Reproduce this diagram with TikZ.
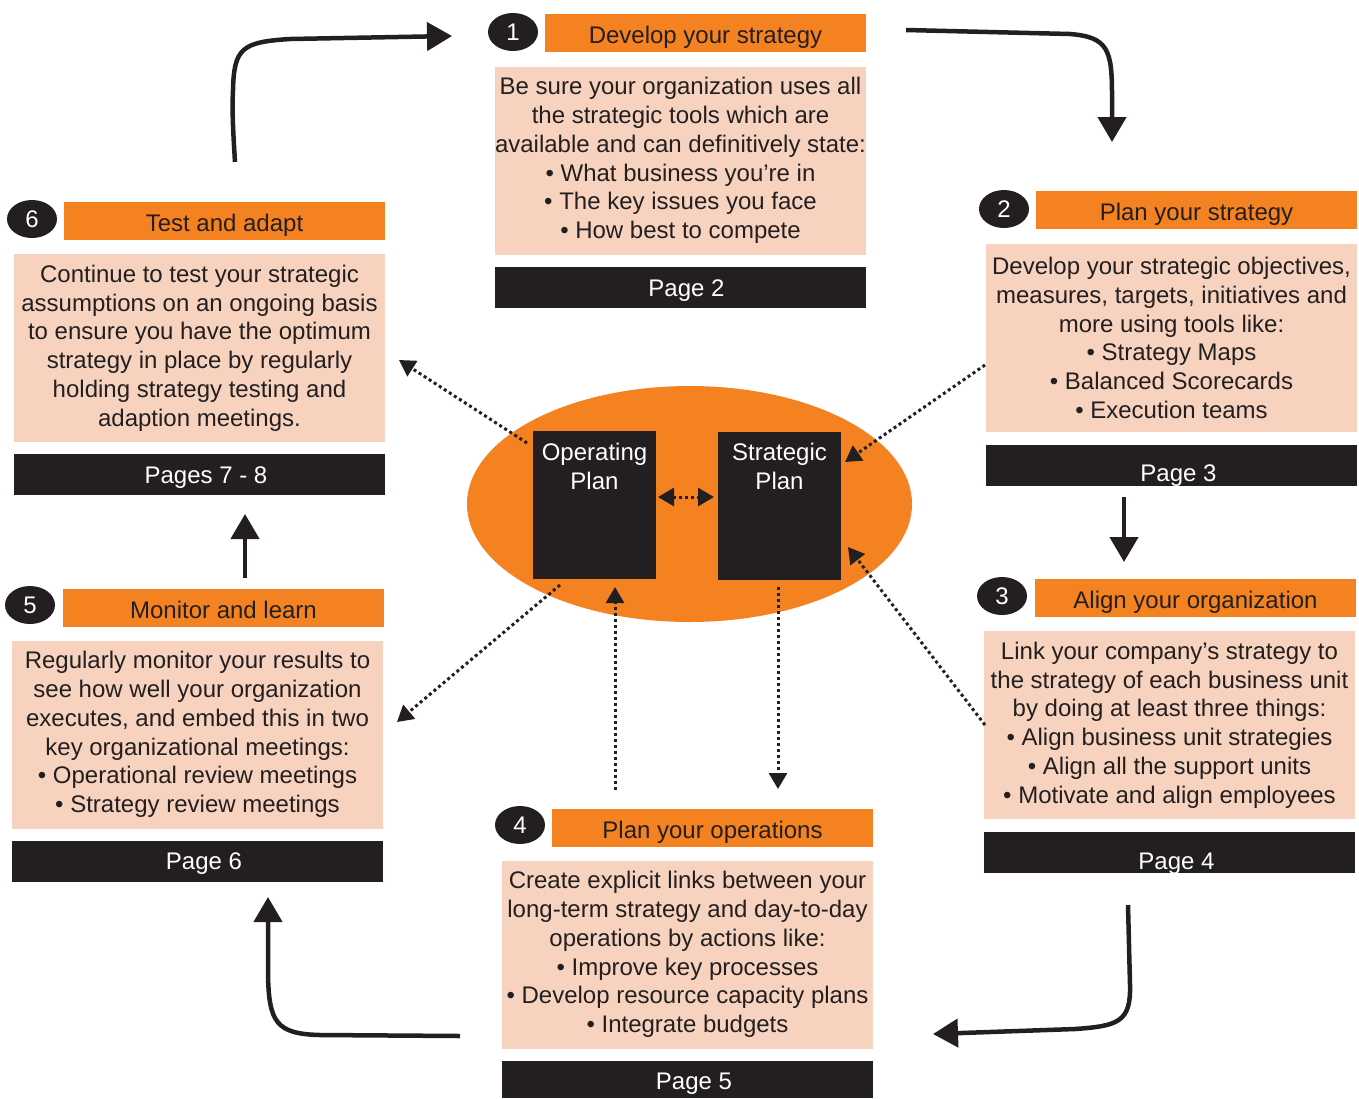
\documentclass[tikz,border=0pt]{standalone}
\usepackage{fontspec}
\setmainfont{Liberation Sans}
\usetikzlibrary{arrows.meta,shapes.geometric}
\definecolor{orng}{HTML}{F58220}
\definecolor{peach}{HTML}{F7D3BF}
\definecolor{dark}{HTML}{231F20}
\begin{document}
\begin{tikzpicture}[x=1pt,y=-1pt,
  txt/.style={font=\fontsize{24}{28.8}\selectfont},
  hdr/.style={txt,fill=orng,text=dark,minimum width=321pt,minimum height=38pt,inner sep=0pt,text height=21pt,text depth=0pt},
  bodybox/.style={txt,fill=peach,text=dark,minimum width=371pt,minimum height=188pt,inner sep=0pt,align=center},
  pgbar/.style={fill=dark,minimum width=371pt,minimum height=41pt,inner sep=0pt},
  pgtxt/.style={txt,text=white,inner sep=0pt,text height=17.2pt,text depth=0pt},
  num/.style={txt,ellipse,fill=dark,text=white,minimum width=50pt,minimum height=38pt,inner sep=0pt},
  plan/.style={fill=dark,minimum width=123pt,minimum height=148pt,inner sep=0pt},
  plantxt/.style={txt,text=white,align=center,inner sep=0pt},
  thick arrow/.style={draw=dark,line width=4.5pt,-{Triangle[length=25pt,width=28pt]}},
  dot arrow/.style={draw=dark,line width=3pt,dash pattern=on 3pt off 3pt,-{Triangle[length=16pt,width=18pt]}},
]
\useasboundingbox (0,0) rectangle (1359,1098);

% centre
\node[ellipse,fill=orng,minimum width=445pt,minimum height=236pt,inner sep=0pt] (core) at (689.5,504) {};
\node[plan] (op) at (594.5,505) {};
\node[plantxt] (optxt) at (594.5,466.5) {Operating\\Plan};
\node[plan] (sp) at (779.5,506) {};
\node[plantxt] (sptxt) at (779.5,466.5) {Strategic\\Plan};

% box 1
\node[num] (n1) at (513,32) {1};
\node[hdr] (h1) at (705.5,33) {Develop your strategy};
\node[bodybox] (b1) at (680.5,160.5) {Be sure your organization uses all\\the strategic tools which are\\available and can definitively state:\\• What business you’re in\\• The key issues you face\\• How best to compete};
\node[pgbar] (p1) at (680.5,287.5) {};
\node[pgtxt] (t1) at (686.5,288) {Page 2};

% box 2
\node[num] (n2) at (1004,209) {2};
\node[hdr] (h2) at (1196.5,210) {Plan your strategy};
\node[bodybox] (b2) at (1171.5,338) {Develop your strategic objectives,\\measures, targets, initiatives and\\more using tools like:\\• Strategy Maps\\• Balanced Scorecards\\• Execution teams};
\node[pgbar] (p2) at (1171.5,465.5) {};
\node[pgtxt] (t2) at (1178.5,473) {Page 3};

% box 3
\node[num] (n3) at (1002,596) {3};
\node[hdr] (h3) at (1195.5,597.5) {Align your organization};
\node[bodybox] (b3) at (1169.5,725) {Link your company’s strategy to\\the strategy of each business unit\\by doing at least three things:\\• Align business unit strategies\\• Align all the support units\\• Motivate and align employees};
\node[pgbar] (p3) at (1169.5,852.5) {};
\node[pgtxt] (t3) at (1176.5,861) {Page 4};

% box 4
\node[num] (n4) at (520,825) {4};
\node[hdr] (h4) at (712.5,827.5) {Plan your operations};
\node[bodybox] (b4) at (687.5,954.5) {Create explicit links between your\\long-term strategy and day-to-day\\operations by actions like:\\• Improve key processes\\• Develop resource capacity plans\\• Integrate budgets};
\node[pgbar,minimum height=37pt] (p4) at (687.5,1079.5) {};
\node[pgtxt] (t4) at (694,1081.3) {Page 5};

% box 5
\node[num] (n5) at (30,605) {5};
\node[hdr] (h5) at (223.5,607.5) {Monitor and learn};
\node[bodybox] (b5) at (197.5,734.5) {Regularly monitor your results to\\see how well your organization\\executes, and embed this in two\\key organizational meetings:\\• Operational review meetings\\• Strategy review meetings};
\node[pgbar] (p5) at (197.5,861.5) {};
\node[pgtxt] (t5) at (204,861.3) {Page 6};

% box 6
\node[num] (n6) at (32,219) {6};
\node[hdr] (h6) at (224.5,220.5) {Test and adapt};
\node[bodybox] (b6) at (199.5,348) {Continue to test your strategic\\assumptions on an ongoing basis\\to ensure you have the optimum\\strategy in place by regularly\\holding strategy testing and\\adaption meetings.};
\node[pgbar] (p6) at (199.5,474.5) {};
\node[pgtxt] (t6) at (206,474.7) {Pages 7 - 8};

% coordinates for connector ends
\coordinate (a61s) at (235,162);
\coordinate (a61e) at (452,36);
\coordinate (a12s) at (906,30);
\coordinate (a12e) at (1112,142);
\coordinate (a23s) at (1124,497);
\coordinate (a23e) at (1124,562);
\coordinate (a34s) at (1128,905);
\coordinate (a34e) at (933,1034);
\coordinate (a45s) at (460,1036);
\coordinate (a45e) at (268,897);
\coordinate (a56s) at (245,578);
\coordinate (a56e) at (245,514);

% thick arrows
\draw[thick arrow] (a61s) .. controls (233,130) and (232,110) .. (233,90) .. controls (234,48) and (242,42) .. (290,39) -- (a61e);
\draw[thick arrow] (a12s) -- (1070,34) .. controls (1108,37) and (1112,50) .. (1112,95) -- (a12e);
\draw[thick arrow] (a23s) -- (a23e);
\draw[thick arrow] (a34s) -- (1130,985) .. controls (1131,1022) and (1118,1026) .. (1075,1029) -- (a34e);
\draw[thick arrow] (a45s) -- (320,1035) .. controls (276,1034) and (269,1022) .. (268,975) -- (a45e);
\draw[thick arrow] (a56s) -- (a56e);

% dotted arrows
\coordinate (d1s) at (527,443);  \coordinate (d1e) at (399,360);
\coordinate (d2s) at (985,365);  \coordinate (d2e) at (845,462);
\coordinate (d3s) at (985,725);  \coordinate (d3e) at (848,547);
\coordinate (d4s) at (560,585);  \coordinate (d4e) at (397,722);
\coordinate (d5s) at (615,790);  \coordinate (d5e) at (615,587);
\coordinate (d6s) at (778,587);  \coordinate (d6e) at (778,789);
\coordinate (d7s) at (658,497);  \coordinate (d7e) at (714,497);
\draw[dot arrow] (d1s) -- (d1e);
\draw[dot arrow] (d2s) -- (d2e);
\draw[dot arrow] (d3s) -- (d3e);
\draw[dot arrow] (d4s) -- (d4e);
\draw[dot arrow] (d5s) -- (d5e);
\draw[dot arrow] (d6s) -- (d6e);
\draw[dot arrow,{Triangle[length=16pt,width=18pt]}-{Triangle[length=16pt,width=18pt]}] (d7s) -- (d7e);
\end{tikzpicture}
\end{document}
